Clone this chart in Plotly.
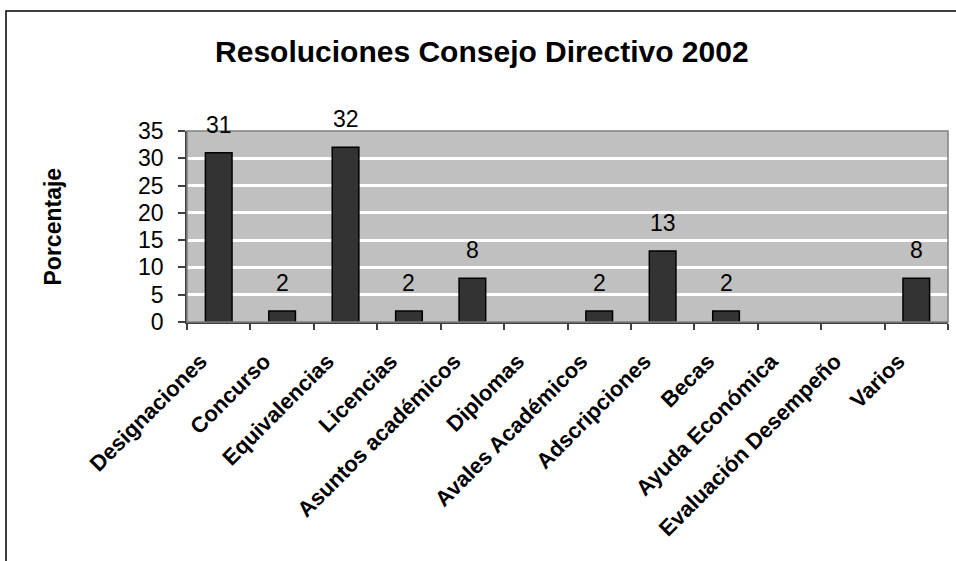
import plotly.graph_objects as go

categories = ["Designaciones", "Concurso", "Equivalencias", "Licencias",
              "Asuntos académicos", "Diplomas", "Avales Académicos",
              "Adscripciones", "Becas", "Ayuda Económica",
              "Evaluación Desempeño", "Varios"]
values = [31, 2, 32, 2, 8, 0, 2, 13, 2, 0, 0, 8]
y_ticks = [0, 5, 10, 15, 20, 25, 30, 35]

title_text = "Resoluciones Consejo Directivo 2002"
y_title = "Porcentaje"

W, H = 956, 561
ML, MR, MT, MB = 187, 8, 131, 239
PW = W - ML - MR
PH = H - MT - MB

FONT = "Liberation Sans, Arial, sans-serif"

fig = go.Figure()
fig.add_trace(go.Bar(
    x=categories, y=values,
    marker=dict(color="#333333",
                line=dict(color="#000000",
                          width=[1.5 if v > 0 else 0 for v in values])),
    showlegend=False,
    hoverinfo="skip",
))

annotations = []
for c, v in zip(categories, values):
    if v > 0:
        annotations.append(dict(
            x=c, y=v, xref="x", yref="y", text=str(v), showarrow=False,
            yshift=28, yanchor="middle",
            font=dict(family=FONT, size=23, color="#000000"),
        ))

# y-axis title
annotations.append(dict(
    x=(52 - ML) / PW, y=0.5, xref="paper", yref="paper",
    text="<b>" + y_title + "</b>", textangle=-90, showarrow=False,
    xanchor="center", yanchor="middle",
    font=dict(family=FONT, size=23, color="#000000"),
))

shapes = [
    # outer chart frame
    dict(type="rect", xref="paper", yref="paper",
         x0=(6 - ML) / PW, x1=(965 - ML) / PW,
         y0=-(575 - MT - PH) / PH, y1=(H - MB - 11) / PH,
         line=dict(color="#000000", width=1.5), fillcolor="rgba(0,0,0,0)",
         layer="below"),
    # plot area border
    dict(type="rect", xref="paper", yref="paper", x0=0, x1=1, y0=0, y1=1,
         line=dict(color="#808080", width=1.5), fillcolor="rgba(0,0,0,0)",
         layer="above"),
]

fig.update_layout(
    width=W, height=H,
    margin=dict(l=ML, r=MR, t=MT, b=MB),
    paper_bgcolor="#FFFFFF",
    plot_bgcolor="#C0C0C0",
    bargap=0.58,
    title=dict(text="<b>" + title_text + "</b>", x=0.504, xref="container",
               xanchor="center", y=1 - 51.5 / H, yref="container",
               yanchor="middle",
               font=dict(family=FONT, size=30, color="#000000")),
    font=dict(family=FONT, color="#000000"),
    annotations=annotations,
    shapes=shapes,
    xaxis=dict(
        tickangle=-45,
        tickfont=dict(family=FONT, size=22, color="#000000", weight="bold"),
        ticks="outside", tickson="boundaries", ticklen=6,
        tickcolor="#404040", tickwidth=1.5,
        ticklabelstandoff=16, ticklabelshift=-18,
        showline=True, linecolor="#404040", linewidth=1.5,
        showgrid=False, zeroline=False,
    ),
    yaxis=dict(
        range=[0, 35], tickvals=y_ticks,
        tickfont=dict(family=FONT, size=23, color="#000000"),
        ticks="outside", ticklen=7, tickcolor="#404040", tickwidth=1.5,
        ticklabelstandoff=10,
        showline=True, linecolor="#404040", linewidth=1.5,
        showgrid=True, gridcolor="#FFFFFF", gridwidth=2.5,
        zeroline=False,
    ),
)

fig.write_html(
    "out.html",
    config={"displayModeBar": False},
    post_script="document.body.style.margin='0px';"
                "document.body.style.overflow='hidden';",
)
